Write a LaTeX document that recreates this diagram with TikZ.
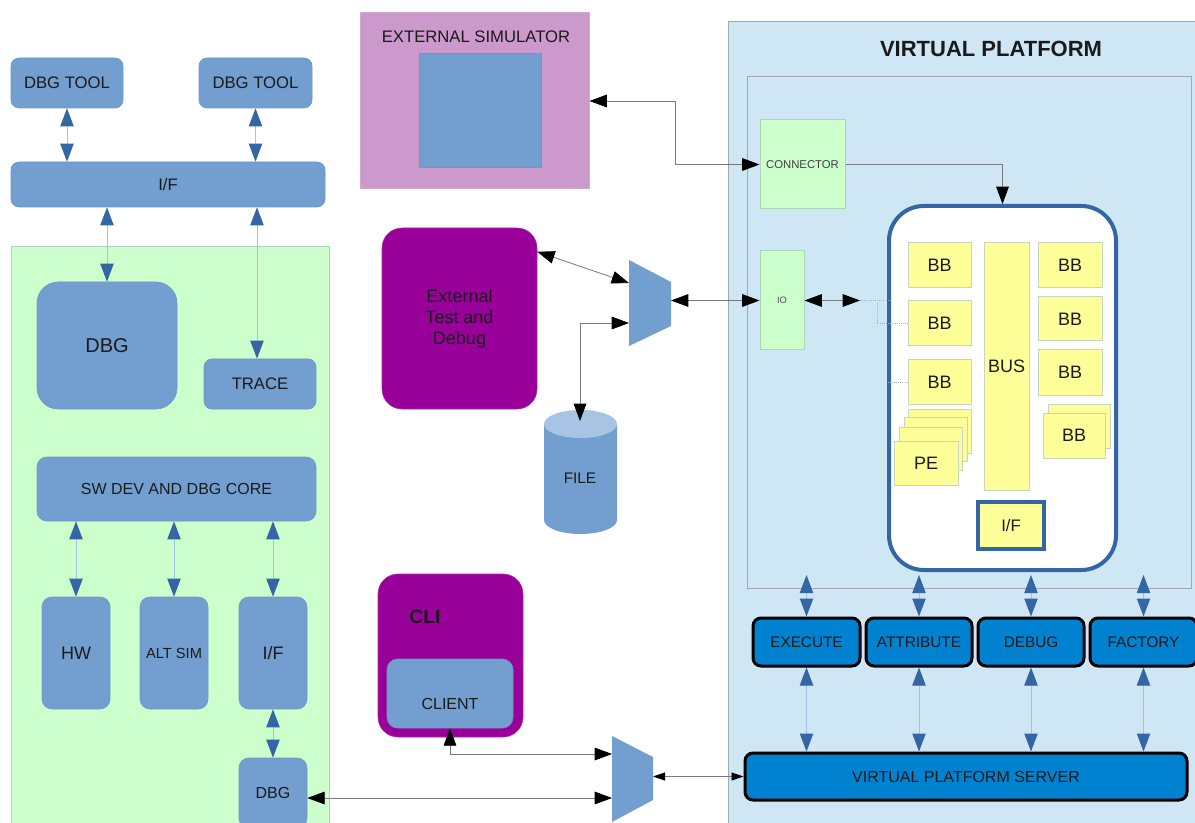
\documentclass[tikz,border=0pt]{standalone}
\usepackage{fontspec}
\setmainfont{Liberation Sans}
\usetikzlibrary{arrows.meta,fit,calc}
\definecolor{boxblue}{HTML}{729FCF}
\definecolor{boxln}{HTML}{6A98CA}
\definecolor{tipblue}{HTML}{3465A4}
\definecolor{lineblue}{HTML}{A4C2E4}
\definecolor{greenbg}{HTML}{CCFFCC}
\definecolor{greenln}{HTML}{A8D8B8}
\definecolor{purp}{HTML}{990099}
\definecolor{pinkbg}{HTML}{CC99CC}
\definecolor{vpbg}{HTML}{CFE7F5}
\definecolor{vpln}{HTML}{A0A8B0}
\definecolor{bbyel}{HTML}{FFFF99}
\definecolor{bbln}{HTML}{C8D4C0}
\definecolor{btnblue}{HTML}{0082D0}
\definecolor{txt}{HTML}{1A1A1A}
\definecolor{cyltop}{HTML}{A7C4E5}
\definecolor{karrln}{HTML}{7A7A7A}
\definecolor{dotln}{HTML}{8FB3D9}
% #1 box style, #2 name, #3-#6 corners, #7 text style, #8 text
\newcommand\bx[8][]{\node[inner sep=0pt,#1,fit={(#3,#4)(#5,#6)}] (#2) {};
  \node[inner sep=0pt,align=center,#7] (#2-t) at (#2.center) {#8};}
\newcommand\fz[2]{\fontsize{#1}{#2}\selectfont}
\begin{document}
\begin{tikzpicture}[x=0.75pt,y=-0.75pt,
  every node/.style={text=txt},
  bbox/.style={fill=boxblue,draw=boxln,line width=0.5pt},
  bbstyle/.style={fill=bbyel,draw=bbln,line width=0.75pt},
  bbtext/.style={font=\fz{13.5}{16}},
  btn/.style={fill=btnblue,draw=black,line width=2.25pt,rounded corners=6pt},
  btntext/.style={font=\fz{11.5}{14}},
  barr/.style={draw=lineblue,line width=0.75pt,{Triangle[length=13.5pt,width=10pt,color=tipblue]}-{Triangle[length=13.5pt,width=10pt,color=tipblue]}},
  karr/.style={draw=karrln,line width=0.6pt,{Triangle[length=13pt,width=9.5pt,color=black]}-{Triangle[length=13pt,width=9.5pt,color=black]}},
  karrone/.style={draw=karrln,line width=0.6pt,-{Triangle[length=13pt,width=9.5pt,color=black]}},
  karrs/.style={draw=karrln,line width=0.6pt,{Triangle[length=9pt,width=6pt,color=black]}-{Triangle[length=9pt,width=6pt,color=black]}},
  dotl/.style={draw=dotln,line width=0.6pt,densely dotted}]
\useasboundingbox (0,0) rectangle (1195,823);
\clip (0,0) rectangle (1195,823);
\fill[white] (0,0) rectangle (1195,823);

% ---------- left side ----------
\bx[bbox,rounded corners=6pt]{tool1}{11}{58}{123}{108}{font=\fz{12.5}{15}}{DBG TOOL}
\bx[bbox,rounded corners=6pt]{tool2}{199}{58}{312}{108}{font=\fz{12.5}{15}}{DBG TOOL}
\bx[bbox,rounded corners=6pt]{iftop}{11}{162}{325}{207}{font=\fz{12.5}{15}}{I/F}
\bx[fill=greenbg,draw=greenln,line width=0.75pt]{green}{11}{247}{329}{840}{}{}
\bx[bbox,rounded corners=16pt]{dbg}{37}{282}{177}{409}{font=\fz{15}{18}}{DBG}
\bx[bbox,rounded corners=6pt]{trace}{204}{359}{316}{409}{font=\fz{12.5}{15}}{TRACE}
\bx[bbox,rounded corners=7.5pt]{core}{37}{457}{316}{521}{font=\fz{12}{14}}{SW DEV AND DBG CORE}
\bx[bbox,rounded corners=7.5pt]{hw}{42}{597}{110}{709}{font=\fz{13.5}{16}}{HW}
\bx[bbox,rounded corners=7.5pt]{alt}{140}{597}{208}{709}{font=\fz{11}{13}}{ALT SIM}
\bx[bbox,rounded corners=7.5pt]{if2}{239}{597}{307}{709}{font=\fz{13.5}{16}}{I/F}
\bx[bbox,rounded corners=7.5pt]{dbg2}{239}{758}{307}{828}{font=\fz{12}{14}}{DBG}

% ---------- middle ----------
\bx[fill=pinkbg,draw=pinkbg!85!white,line width=0.75pt]{extsim}{360}{13}{589}{189}{}{}
\node[font=\fz{12.5}{15}] (extsimt) at (476,37) {EXTERNAL SIMULATOR};
\bx[fill=boxblue,draw=boxln,line width=0.5pt]{extsq}{419}{53}{541}{167}{}{}

\bx[fill=purp,draw=purp!85!white,rounded corners=15pt]{ext}{382}{228}{537}{409}{font=\fz{13.5}{15.75}}{External\\Test and\\Debug}

% cylinder FILE
\fill[boxblue] (544,424) -- (544,520) arc[start angle=180,end angle=360,x radius=27.4pt,y radius=10.5pt] -- (617,424) -- cycle;
\fill[cyltop] (580.5,424) ellipse[x radius=27.4pt,y radius=10.5pt];
\node[font=\fz{11.5}{14}] (file) at (580,478) {FILE};
\coordinate (filetop) at (580,421);

% mux 1
\fill[boxblue] (629,260) -- (671,282) -- (671,326) -- (629,346) -- cycle;
\coordinate (muxAin) at (629,283);
\coordinate (muxAfile) at (629,323);
\coordinate (muxAout) at (671,300.5);

% CLI
\bx[fill=purp,draw=purp!85!white,rounded corners=15pt]{cli}{378}{574}{523}{737}{}{}
\node[font=\fz{14.5}{17}\bfseries] (clit) at (425,617) {CLI};
\bx[fill=boxblue,draw=boxln,line width=0.5pt,rounded corners=8pt]{client}{387}{659}{513}{728}{}{}
\node[font=\fz{12}{14}] (clientt) at (450,704) {CLIENT};

% mux 2
\fill[boxblue] (612,736) -- (653,757) -- (653,800) -- (612,822) -- cycle;
\coordinate (muxBin) at (612,754);
\coordinate (muxBdbg) at (612,798);
\coordinate (muxBout) at (653,776.5);

% ---------- virtual platform ----------
\bx[fill=vpbg,draw=vpln,line width=0.75pt]{vp}{728}{22}{1205}{840}{}{}
\node[font=\fz{16.5}{19}\bfseries] (vpt) at (991,49) {VIRTUAL PLATFORM};
\bx[draw=vpln,line width=0.75pt]{inner}{747}{77}{1191}{588}{}{}
\bx[fill=greenbg,draw=greenln,line width=0.75pt]{conn}{760}{120}{845}{209}{font=\fz{8.5}{10},text=black!75}{CONNECTOR}
\bx[fill=greenbg,draw=greenln,line width=0.75pt]{io}{760}{251}{804}{350}{font=\fz{7}{8},text=black!70}{IO}

\bx[fill=white,draw=tipblue,line width=3pt,rounded corners=26pt]{big}{889}{206}{1116}{570}{}{}
\bx[bbstyle]{bbla}{908}{243}{971}{288}{bbtext}{BB}
\bx[bbstyle]{bblb}{908}{301}{971}{346}{bbtext}{BB}
\bx[bbstyle]{bblc}{908}{360}{971}{404}{bbtext}{BB}
\bx[bbstyle]{bus}{984}{243}{1029}{490}{bbtext}{BUS}
\bx[bbstyle]{bbra}{1038}{243}{1102}{288}{bbtext}{BB}
\bx[bbstyle]{bbrb}{1038}{297}{1102}{341}{bbtext}{BB}
\bx[bbstyle]{bbrc}{1038}{350}{1102}{395}{bbtext}{BB}
\bx[bbstyle]{bbrdb}{1048}{404}{1110}{448}{}{}
\bx[bbstyle]{bbrd}{1043}{413}{1105}{458}{bbtext}{BB}
\bx[bbstyle]{pea}{908}{409}{971}{453}{}{}
\bx[bbstyle]{peb}{904}{417}{967}{461}{}{}
\bx[bbstyle]{pec}{899}{427}{962}{470}{}{}
\bx[bbstyle]{pe}{894}{441}{958}{485}{bbtext}{PE}
\bx[fill=bbyel,draw=tipblue,line width=2.5pt]{ifbig}{978}{502}{1044}{549}{font=\fz{12.5}{15}}{I/F}

\bx[btn]{exec}{753}{618}{860}{666}{btntext}{EXECUTE}
\bx[btn]{attr}{866}{618}{972}{666}{btntext}{ATTRIBUTE}
\bx[btn]{dbgb}{978}{618}{1084}{666}{btntext}{DEBUG}
\bx[btn]{fact}{1090}{618}{1197}{666}{btntext}{FACTORY}
\bx[btn]{server}{745}{753}{1187}{800}{font=\fz{12}{14}}{VIRTUAL PLATFORM SERVER}

% ---------- connectors ----------
\draw[barr] (tool1.south) -- (tool1.south |- iftop.north);
\draw[barr] (tool2.south) -- (tool2.south |- iftop.north);
\draw[barr] (dbg.north |- iftop.south) -- (dbg.north);
\coordinate (trx) at (257,0);
\draw[barr] (iftop.south -| trx) -- (trace.north -| trx);
\draw[barr] (hw.north |- core.south) -- (hw.north);
\draw[barr] (alt.north |- core.south) -- (alt.north);
\draw[barr] (if2.north |- core.south) -- (if2.north);
\draw[barr] (if2.south) -- (dbg2.north);

\coordinate (vtop) at (0,575);
\draw[barr] (exec.north |- vtop) -- (exec.north);
\draw[barr] (attr.north |- vtop) -- (attr.north);
\draw[barr] (dbgb.north |- vtop) -- (dbgb.north);
\draw[barr] (fact.north |- vtop) -- (fact.north);
\draw[barr] (exec.south) -- (exec.south |- server.north);
\draw[barr] (attr.south) -- (attr.south |- server.north);
\draw[barr] (dbgb.south) -- (dbgb.south |- server.north);
\draw[barr] (fact.south) -- (fact.south |- server.north);

\coordinate (jx) at (675,0);
\draw[karr] (extsim.east) -- (extsim.east -| jx) |- (conn.west);
\draw[karrone] (conn.east) -| (big.north);
\draw[karr] ([yshift=-18pt]ext.north east) -- (muxAin);
\draw[karr] (muxAfile) -| (filetop);
\draw[karr] (muxAout) -- (io.west);
\coordinate (iodot) at (860,300.5);
\draw[karr] (io.east) -- (iodot);
\draw[dotl] (iodot) -- (890,300.5);
\draw[dotl] (877,300.5) |- (bblb.west);
\draw[dotl] (bblc.west) -- ++(-20,0);
\draw[karr] (client.south) |- (muxBin);
\draw[karr] (dbg2.east |- muxBdbg) -- (muxBdbg);
\draw[karrs] (muxBout) -- (server.west);
\end{tikzpicture}
\end{document}
